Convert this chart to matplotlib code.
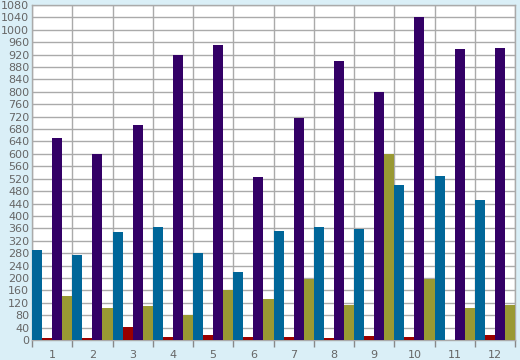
import matplotlib
matplotlib.use("Agg")
import matplotlib.pyplot as plt
import numpy as np

categories = ["1", "2", "3", "4", "5", "6", "7", "8", "9", "10", "11", "12"]
series_blue = [291, 275, 349, 365, 281, 220, 352, 365, 359, 501, 530, 452]
series_red = [5, 8, 43, 11, 17, 11, 11, 7, 14, 11, 1, 17]
series_purple = [652, 601, 694, 920, 952, 526, 717, 900, 801, 1042, 939, 942]
series_olive = [143, 104, 110, 79, 160, 133, 198, 114, 601, 198, 104, 114]
yticks = list(range(0, 1081, 40))

series = [series_blue, series_red, series_purple, series_olive]
colors = ["#006699", "#990000", "#330066", "#999933"]

bg = "#daeff7"
fig = plt.figure(figsize=(5.2, 3.6), dpi=100, facecolor=bg)
ax = fig.add_axes([32/520, 20/360, 483/520, 335/360])
ax.set_facecolor("white")

x = np.arange(len(categories))
w = 0.25
for k, (vals, c) in enumerate(zip(series, colors)):
    ax.bar(x + k * w, vals, width=w, align="edge", color=c, zorder=3, linewidth=0)

ax.set_xlim(0, len(categories))
ax.set_ylim(0, 1080)
ax.set_yticks(yticks)
ax.set_yticklabels([str(v) for v in yticks])
ax.set_xticks(np.arange(len(categories) + 1))
ax.set_xticklabels([])
ax.set_xticks(x + 0.5, minor=True)
ax.set_xticklabels(categories, minor=True)

ax.grid(True, which="major", color="#aaaaaa", linewidth=1.0, zorder=0)
ax.tick_params(axis="x", which="major", length=5, width=1, color="#888888", direction="out")
ax.tick_params(axis="x", which="minor", length=0, pad=7, labelsize=8, labelcolor="#666666")
ax.tick_params(axis="y", length=0, pad=2, labelsize=8, labelcolor="#666666")
for s in ax.spines.values():
    s.set_color("#aaaaaa")
    s.set_linewidth(1.0)

fig.savefig("out.png", dpi=100, facecolor=bg)
